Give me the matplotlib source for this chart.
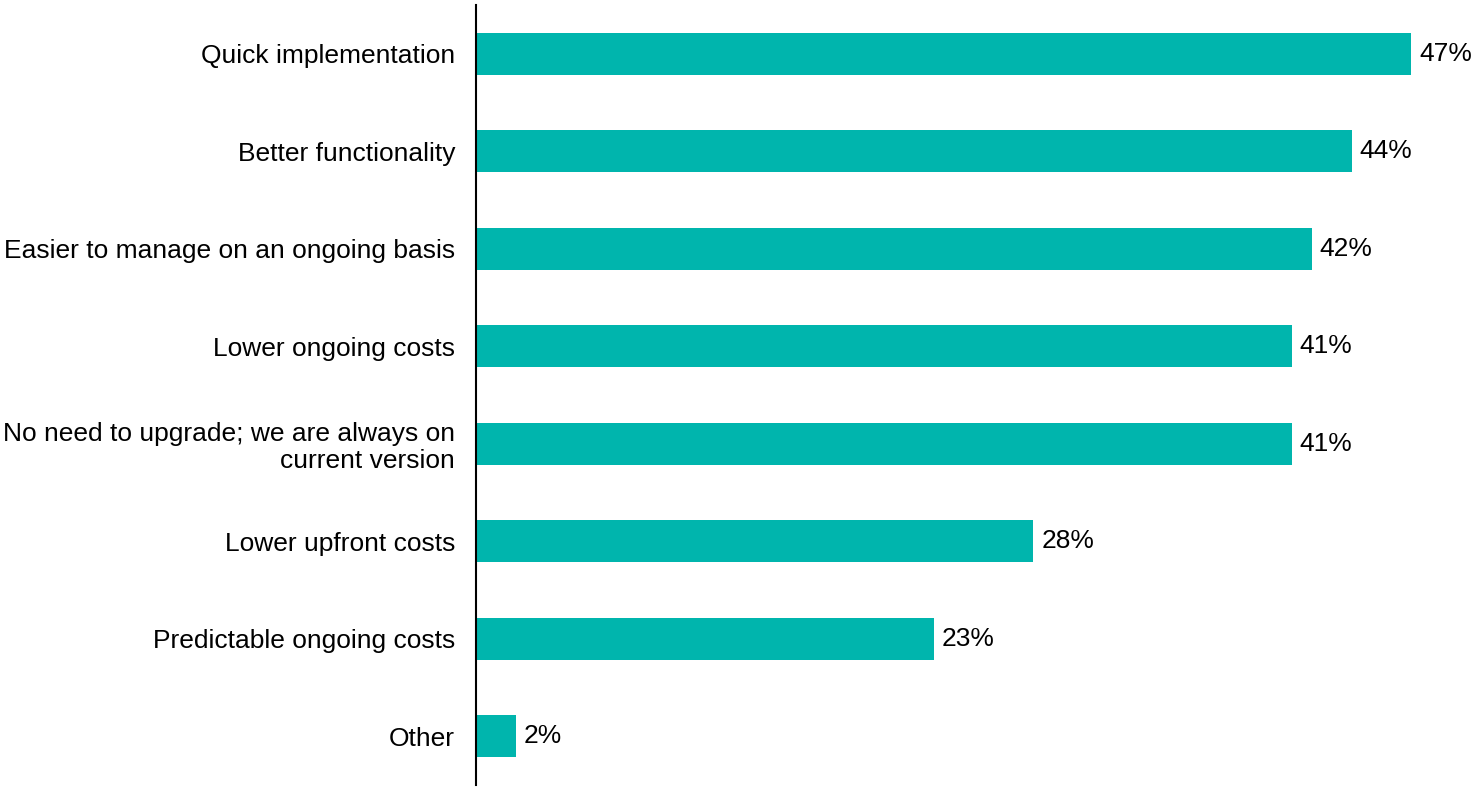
import matplotlib
matplotlib.use("Agg")
import matplotlib.pyplot as plt

# Survey answers, top to bottom
labels = [
    "Quick implementation",
    "Better functionality",
    "Easier to manage on an ongoing basis",
    "Lower ongoing costs",
    "No need to upgrade; we are always on\ncurrent version",
    "Lower upfront costs",
    "Predictable ongoing costs",
    "Other",
]
values = [47, 44, 42, 41, 41, 28, 23, 2]

plt.rcParams["font.family"] = ["Liberation Sans", "DejaVu Sans"]

fig = plt.figure(figsize=(14.73, 7.88), dpi=100)
ax = fig.add_axes([476 / 1473, 3 / 788, 1 - 476 / 1473, 780 / 788])

pos = list(range(len(labels)))
ax.barh(pos, values, height=0.43, color="#00B5AD")

for p, v in zip(pos, values):
    ax.text(v + 0.4, p, f"{v}%", va="center", ha="left", fontsize=19, color="black")

ax.set_xlim(0, 50.1)
ax.set_ylim(len(labels) - 0.5, -0.5)
ax.set_yticks(pos)
ax.set_yticklabels(labels, fontsize=19, linespacing=1.15)
ax.tick_params(axis="y", length=0, pad=15)
ax.set_xticks([])

for s in ["top", "right", "bottom"]:
    ax.spines[s].set_visible(False)
ax.spines["left"].set_linewidth(1.5)
ax.spines["left"].set_color("black")

fig.savefig("out.png", dpi=100)
